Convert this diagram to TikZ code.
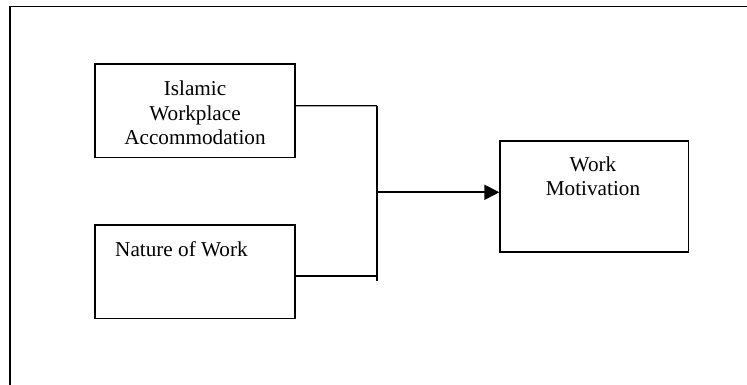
\documentclass[tikz,border=0pt]{standalone}
\usepackage{fontspec}
\setmainfont{Liberation Serif}
\usetikzlibrary{arrows.meta}
\begin{document}
\begin{tikzpicture}[x=1pt,y=-1pt,
  box/.style={draw,line width=1.3pt,rectangle,inner sep=0pt},
  lbl/.style={inner sep=0pt,align=center,font=\fontsize{21.2pt}{24.5pt}\selectfont},
  conn/.style={line width=1.2pt},
  arr/.style={line width=1.8pt,-{Triangle[length=15pt,width=15pt]}}]
\useasboundingbox (0,0) rectangle (747,385);
% outer frame (cropped at right and bottom)
\draw[line width=1.3pt] (10,390) -- (10,6.5) -- (752,6.5);
% boxes
\node[box,minimum width=200pt,minimum height=93.7pt] (b1) at (195,110.85) {};
\node[box,minimum width=200pt,minimum height=93.7pt] (b2) at (195,271.85) {};
\node[box,minimum width=188.3pt,minimum height=111pt] (b3) at (594.15,196.5) {};
% labels
\node[lbl,anchor=north] (t1) at (195,81) {Islamic\\Workplace\\Accommodation};
\node[lbl,anchor=north west] (t2) at (115,241.4) {Nature of Work};
\node[lbl,anchor=north] (t3) at (593,156.5) {Work\\Motivation};
% connectors
\coordinate (j1) at (377,105.7);
\coordinate (j2) at (377,281);
\coordinate (jm) at (377,192.3);
\draw[conn] ([yshift=5.15pt]b1.east) -- (j1);
\draw[conn] ([yshift=-4.15pt]b2.east) -- (377,276);
\draw[conn] (j1) -- (j2);
\draw[arr] (jm) -- ([yshift=4.2pt]b3.west);
\end{tikzpicture}
\end{document}
